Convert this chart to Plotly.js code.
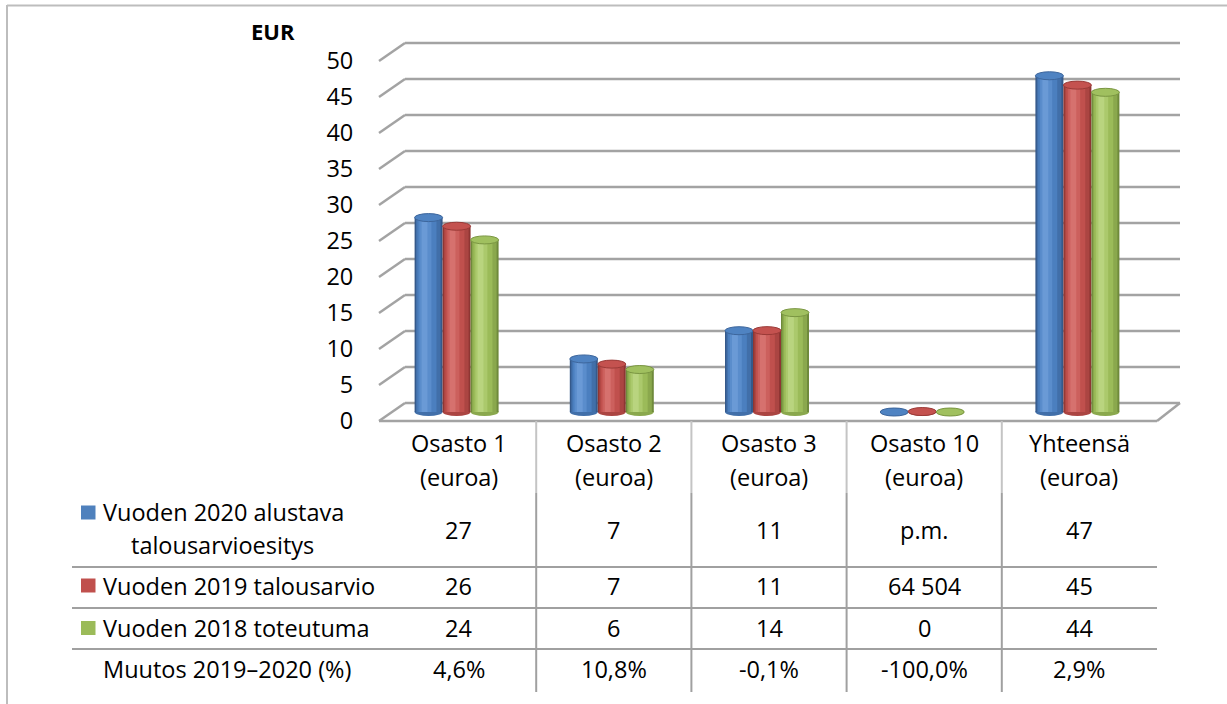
<!DOCTYPE html>
<html><head><meta charset="utf-8">
<script src="https://cdn.plot.ly/plotly-3.0.1.min.js"></script>
<style>html,body{margin:0;padding:0;background:#fff}#chart{width:1227px;height:704px}</style>
</head><body><div id="chart"></div>
<script>
// ---------------- data ----------------
const categories = ['Osasto 1', 'Osasto 2', 'Osasto 3', 'Osasto 10', 'Yhteensä'];
const categoryUnit = '(euroa)';
const seriesLabels = [['Vuoden 2020 alustava', 'talousarvioesitys'], ['Vuoden 2019 talousarvio'], ['Vuoden 2018 toteutuma']];
const values2020 = [27.0, 7.37, 11.29, 0, 46.7];
const values2019 = [25.8, 6.65, 11.3, 0.0645, 45.4];
const values2018 = [23.9, 5.9, 13.8, 0, 44.4];
const row2020 = ['27', '7', '11', 'p.m.', '47'];
const row2019 = ['26', '7', '11', '64 504', '45'];
const row2018 = ['24', '6', '14', '0', '44'];
const changeLabel = 'Muutos 2019–2020 (%)';
const rowChange = ['4,6%', '10,8%', '-0,1%', '-100,0%', '2,9%'];
const yTicks = [0, 5, 10, 15, 20, 25, 30, 35, 40, 45, 50];
const unitLabel = 'EUR';

// ---------------- styling / geometry ----------------
const W = 1227, H = 704;
const px = v => v / W;           // pixel x -> paper
const py = v => 1 - v / H;       // pixel y -> paper
const FONT = 'Open Sans, sans-serif';
const FS = 23.5;
const plotTop = 20, plotBottom = 430, plotLeft = 379, plotRight = 1181;
const colLeft = 381, colW = 155.2;
const ppu = 7.2;                 // pixels per value unit
const barBase = 412, frontBase = 421, backBase = 403;
const rngFor = base => [(base - plotBottom) / ppu, (base - plotTop) / ppu];

const seriesValues = [values2020, values2019, values2018];
const palette = [
  {shades: ['#35598a', '#416fa9', '#4b7fbf', '#5a8dcc', '#6a9ad6'], cap: '#4f83c2', rim: '#3d669c'},
  {shades: ['#8e3633', '#ab4542', '#c0504d', '#cc605d', '#d6716e'], cap: '#c4524f', rim: '#9a3a37'},
  {shades: ['#6f8a3b', '#8aa84d', '#9bbb59', '#abc96c', '#b9d47f'], cap: '#a0c05f', rim: '#7a9642'}
];
const barW = 28 / colW;
const groupShift = -2 / colW;
const capH = 4 / ppu;

const xIdx = categories.map((c, i) => i);
const traces = [];
const shapes = [];

seriesValues.forEach((vals, s) => {
  const left = groupShift - 1.5 * barW + s * barW;
  const sh = palette[s].shades;
  const layers = [
    {f0: 0, f1: 1, c: sh[0]},
    {f0: 0.05, f1: 0.93, c: sh[1]},
    {f0: 0.1, f1: 0.78, c: sh[2]},
    {f0: 0.17, f1: 0.6, c: sh[3]},
    {f0: 0.25, f1: 0.46, c: sh[4]}
  ];
  layers.forEach(L => {
    traces.push({
      type: 'bar', x: xIdx, y: vals, xaxis: 'x', yaxis: 'y',
      offset: left + L.f0 * barW, width: (L.f1 - L.f0) * barW,
      marker: {color: L.c, line: {width: 0}},
      name: seriesLabels[s].join(' '), showlegend: false, hoverinfo: 'skip'
    });
  });
  vals.forEach((v, i) => {
    // rounded bottom of the cylinder
    shapes.push({type: 'circle', layer: 'below', xref: 'x', yref: 'y',
      x0: i + left, x1: i + left + barW, y0: -capH, y1: capH,
      fillcolor: sh[1], line: {width: 0}});
    // top cap
    shapes.push({type: 'circle', layer: 'above', xref: 'x', yref: 'y',
      x0: i + left, x1: i + left + barW, y0: v - capH, y1: v + capH,
      fillcolor: palette[s].cap, line: {width: 1, color: palette[s].rim}});
  });
});

// dummy traces so the overlay axes exist
traces.push({type: 'scatter', x: [], y: [], xaxis: 'x', yaxis: 'y2', showlegend: false, hoverinfo: 'skip'});
traces.push({type: 'scatter', x: [], y: [], xaxis: 'x', yaxis: 'y3', showlegend: false, hoverinfo: 'skip'});

// back wall gridlines and left wall diagonals (back scale = y3)
const gridCol = '#a3a3a3';
const depthUnits = (frontBase - backBase) / ppu;
yTicks.forEach(v => {
  shapes.unshift({type: 'line', layer: 'below', xref: 'paper', yref: 'y3',
    x0: px(405), x1: px(1180), y0: v, y1: v, line: {color: gridCol, width: 2.5}});
  shapes.unshift({type: 'line', layer: 'below', xref: 'paper', yref: 'y3',
    x0: px(plotLeft), x1: px(405), y0: v - depthUnits, y1: v, line: {color: gridCol, width: 2.5}});
});
// floor front and right edges
shapes.push({type: 'line', layer: 'below', xref: 'paper', yref: 'paper',
  x0: px(plotLeft), x1: px(1157), y0: py(frontBase), y1: py(frontBase), line: {color: gridCol, width: 2.5}});
shapes.push({type: 'line', layer: 'below', xref: 'paper', yref: 'paper',
  x0: px(1157), x1: px(1180), y0: py(frontBase), y1: py(backBase), line: {color: gridCol, width: 2.5}});

// table lines
const tblCol = '#a0a0a0';
[567, 608, 649].forEach(y => shapes.push({type: 'line', xref: 'paper', yref: 'paper',
  x0: px(72), x1: px(1157), y0: py(y), y1: py(y), line: {color: tblCol, width: 2}}));
[1, 2, 3, 4].forEach(k => {
  shapes.push({type: 'line', xref: 'paper', yref: 'paper',
    x0: px(colLeft + k * colW), x1: px(colLeft + k * colW), y0: py(frontBase), y1: py(493), line: {color: '#c4c4c4', width: 2}});
  shapes.push({type: 'line', xref: 'paper', yref: 'paper',
    x0: px(colLeft + k * colW), x1: px(colLeft + k * colW), y0: py(493), y1: py(692), line: {color: tblCol, width: 2}});
});

// outer chart border (top and left)
shapes.push({type: 'line', xref: 'paper', yref: 'paper', x0: px(7), x1: 1, y0: py(5.5), y1: py(5.5), line: {color: '#bdbdbd', width: 2}});
shapes.push({type: 'line', xref: 'paper', yref: 'paper', x0: px(7), x1: px(7), y0: py(5), y1: 0, line: {color: '#bdbdbd', width: 2}});

// legend keys
const keyColors = ['#4f81bd', '#c0504d', '#9bbb59'];
const keyY = [512.5, 585.5, 628];
keyY.forEach((y, s) => shapes.push({type: 'rect', xref: 'paper', yref: 'paper',
  x0: px(81), x1: px(95.5), y0: py(y - 7), y1: py(y + 7), fillcolor: keyColors[s], line: {width: 0}}));

// annotations
const ann = [];
const txt = (text, x, xref, y, xanchor, extra) => Object.assign({
  text, x, xref, y: py(y), yref: 'paper', xanchor, yanchor: 'middle', showarrow: false,
  font: {family: FONT, size: FS, color: '#000'}
}, extra || {});
ann.push(txt('<b>' + unitLabel + '</b>', px(249), 'paper', 31, 'left', {font: {family: FONT, size: 22, color: '#000'}}));
categories.forEach((c, i) => {
  ann.push(txt(c, i, 'x', 443, 'center'));
  ann.push(txt(categoryUnit, i, 'x', 477, 'center'));
});
const rows = [row2020, row2019, row2018, rowChange];
const rowY = [530, 585.5, 627.5, 668.5];
rows.forEach((r, k) => r.forEach((t, i) => ann.push(txt(t, i, 'x', rowY[k], 'center'))));
ann.push(txt(seriesLabels[0][0], px(101), 'paper', 511.5, 'left'));
ann.push(txt(seriesLabels[0][1], px(222), 'paper', 545, 'center'));
ann.push(txt(seriesLabels[1][0], px(101), 'paper', 585.5, 'left'));
ann.push(txt(seriesLabels[2][0], px(101), 'paper', 627.5, 'left'));
ann.push(txt(changeLabel, px(101), 'paper', 668.5, 'left'));

const yDom = [1 - plotBottom / H, 1 - plotTop / H];
const layout = {
  width: W, height: H,
  margin: {l: 0, r: 0, t: 0, b: 0, pad: 0},
  paper_bgcolor: '#fff', plot_bgcolor: 'rgba(0,0,0,0)',
  barmode: 'overlay',
  showlegend: false,
  font: {family: FONT, size: FS, color: '#000'},
  xaxis: {domain: [px(plotLeft), px(plotRight)],
    range: [(plotLeft - colLeft) / colW - 0.5, (plotRight - colLeft) / colW - 0.5],
    showgrid: false, zeroline: false, showline: false, showticklabels: false, ticks: '', fixedrange: true},
  yaxis: {domain: yDom, range: rngFor(barBase), autorange: false,
    showgrid: false, zeroline: false, showline: false, showticklabels: false, ticks: '', fixedrange: true},
  yaxis2: {overlaying: 'y', anchor: 'x', side: 'left', range: rngFor(frontBase), autorange: false,
    tickmode: 'array', tickvals: yTicks, ticktext: yTicks.map(String),
    showgrid: false, zeroline: false, showline: false,
    ticks: 'outside', ticklen: 20, tickcolor: 'rgba(0,0,0,0)',
    tickfont: {family: FONT, size: FS, color: '#000'}, fixedrange: true},
  yaxis3: {overlaying: 'y', anchor: 'x', side: 'right', range: rngFor(backBase), autorange: false,
    showgrid: false, zeroline: false, showline: false, showticklabels: false, ticks: '', fixedrange: true},
  shapes, annotations: ann
};

Plotly.newPlot('chart', traces, layout, {displayModeBar: false, staticPlot: true});
</script>
</body></html>
